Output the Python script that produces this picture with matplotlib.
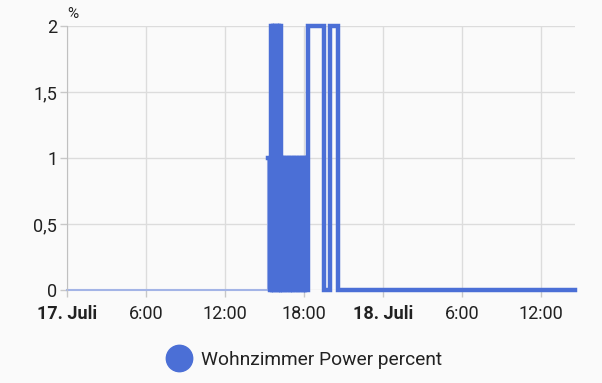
import matplotlib
matplotlib.use("Agg")
import matplotlib.pyplot as plt
import pandas as pd

plt.rcParams['font.family'] = ['Roboto', 'DejaVu Sans']

# idle part before the switch-on (drawn thin)
idle_times = ["2023-07-17 00:00", "2023-07-17 15:16", "2023-07-17 15:16"]
idle_vals = [0, 0, 1]

# active part (power percent, step data)
times = [
    "2023-07-17 15:18", "2023-07-17 15:23", "2023-07-17 15:30", "2023-07-17 15:35",
    "2023-07-17 15:40", "2023-07-17 15:45", "2023-07-17 15:50", "2023-07-17 15:55",
    "2023-07-17 16:00", "2023-07-17 16:05", "2023-07-17 16:10", "2023-07-17 16:14",
    "2023-07-17 16:18", "2023-07-17 16:24", "2023-07-17 16:30", "2023-07-17 16:36",
    "2023-07-17 16:42", "2023-07-17 16:48", "2023-07-17 16:54", "2023-07-17 17:00",
    "2023-07-17 17:06", "2023-07-17 17:12", "2023-07-17 17:18", "2023-07-17 17:24",
    "2023-07-17 17:30", "2023-07-17 17:36", "2023-07-17 17:42", "2023-07-17 17:48",
    "2023-07-17 17:54", "2023-07-17 18:00", "2023-07-17 18:06", "2023-07-17 18:10",
    "2023-07-17 18:17", "2023-07-17 19:33", "2023-07-17 19:58", "2023-07-17 20:35",
    "2023-07-18 14:35",
]
vals = [
    1, 0, 2, 0,
    2, 0, 2, 0,
    2, 0, 2, 0,
    1, 0, 1, 0,
    1, 0, 1, 0,
    1, 0, 1, 0,
    1, 0, 1, 0,
    1, 0, 1, 0,
    2, 0, 2, 0,
    0,
]

tick_pos = ["2023-07-17 00:00", "2023-07-17 06:00", "2023-07-17 12:00", "2023-07-17 18:00",
            "2023-07-18 00:00", "2023-07-18 06:00", "2023-07-18 12:00"]
tick_labels = ["17. Juli", "6:00", "12:00", "18:00", "18. Juli", "6:00", "12:00"]
y_ticks = [0, 0.5, 1, 1.5, 2]
y_labels = ["0", "0,5", "1", "1,5", "2"]

blue = "#4b6fd6"
bg = "#fafafa"

fig = plt.figure(figsize=(6.02, 3.83), dpi=100, facecolor=bg)
ax = fig.add_axes([67 / 602, 1 - 290 / 383, (575 - 67) / 602, (290 - 26) / 383])
ax.set_facecolor(bg)

ax.plot(pd.to_datetime(idle_times), idle_vals, color="#a3b4e6", lw=1.5,
        drawstyle="steps-post", clip_on=False)
ax.plot(pd.to_datetime(times), vals, color=blue, lw=3.2,
        drawstyle="steps-post", clip_on=False, solid_joinstyle="miter")

ax.set_xlim(pd.Timestamp("2023-07-17 00:00"), pd.Timestamp("2023-07-18 14:35"))
ax.set_ylim(0, 2)
ax.set_xticks(pd.to_datetime(tick_pos))
ax.set_xticklabels(tick_labels)
for lab in ax.get_xticklabels():
    if "Juli" in lab.get_text():
        lab.set_fontweight("bold")
ax.set_yticks(y_ticks)
ax.set_yticklabels(y_labels)
ax.tick_params(labelsize=13, colors="#c8c8c8", labelcolor="#212121", length=5, width=1)
ax.tick_params(axis="x", pad=6)
ax.tick_params(axis="y", pad=2)
ax.grid(True, color="#dcdcdc", lw=1)
ax.set_axisbelow(True)
for s in ["top", "right", "bottom"]:
    ax.spines[s].set_visible(False)
ax.spines["left"].set_color("#c0c0c0")

fig.text(73 / 602, 1 - 14 / 383, "%", fontsize=11, color="#212121", ha="center", va="center")

h = plt.Line2D([], [], marker="o", color=blue, ls="none", markersize=19)
fig.legend([h], ["Wohnzimmer Power percent"], loc="center", bbox_to_anchor=(0.5, 1 - 360 / 383),
           frameon=False, fontsize=13.8, handletextpad=0.1, labelcolor="#212121")

fig.savefig("out.png", dpi=100, facecolor=bg)
